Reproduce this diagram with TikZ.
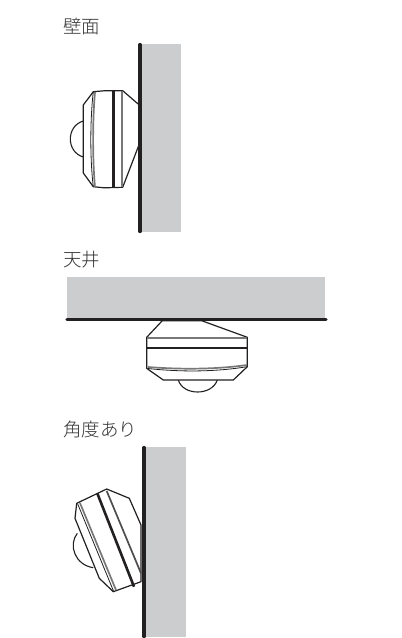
\documentclass[tikz,border=0pt]{standalone}
\usepackage{fontspec}
\newfontfamily\cjk{Noto Sans CJK JP Light}
\definecolor{wallgray}{RGB}{204,205,207}
\definecolor{ink}{RGB}{35,32,33}
\definecolor{captionink}{RGB}{50,48,48}
\definecolor{stripe}{RGB}{120,120,120}
\tikzset{
  wallface/.style={fill=wallgray,draw=none},
  wallline/.style={draw=ink,line width=3.2pt,line cap=round},
  body/.style={draw=ink,line width=1.2pt,fill=white,line join=round},
  dome/.style={draw=ink,line width=1.1pt,fill=white},
  band/.style={draw=ink,line width=2.6pt},
  fine/.style={draw=stripe,line width=1.7pt},
  thin/.style={draw=ink,line width=0.8pt},
  caption/.style={anchor=west,inner sep=0pt,text=captionink,font=\cjk\fontsize{18.5}{20}\selectfont}
}
\begin{document}
\begin{tikzpicture}[x=1pt,y=-1pt]
\useasboundingbox[fill=white] (0,0) rectangle (402,638);
% --- wall
\node[caption] (lab1) at (63,26) {壁面};
\fill[wallface] (141,44) rectangle (181,232);
\draw[dome] (83.3,121) .. controls (66,126) and (66,152) .. (83.3,157);
\draw[body] (93.3,91.7) -- (104,90.8) -- (122.7,90.7) -- (139.3,105) -- (139.3,144) -- (122.7,187.3) -- (104,187.8) -- (93.3,186.7) -- (83.3,173) -- (83.3,105) -- cycle;
\draw[thin] (93.3,91.7) .. controls (90,120) and (90,160) .. (93.3,186.7);
\draw[fine] (95,92) .. controls (92.5,120) and (92.5,160) .. (95,187);
\draw[band] (113.3,91) -- (113.3,187.5);
\draw[fine] (122.3,91) -- (122.3,187);
\draw[wallline] (140,44.5) -- (140,231.5);
% --- ceiling
\node[caption] (lab2) at (63,260) {天井};
\fill[wallface] (67,277) rectangle (325,318);
\draw[dome] (178.3,380) .. controls (183,396) and (212,396) .. (217.3,380);
\draw[body] (162.3,320.7) -- (201.7,320.7) -- (247.3,337.3) -- (247.3,366.7) -- (233.3,380) -- (163.3,380) -- (150,370.7) -- (146.7,368.3) -- (146.7,337.3) -- cycle;
\draw[thin] (148,368.5) .. controls (180,372) and (215,372) .. (247,366.7);
\draw[fine] (148,367) .. controls (180,369.5) and (215,369.5) .. (247,365);
\draw[fine] (146.7,337.7) -- (247.3,337.7);
\draw[band,line width=1.8pt] (146.7,347.7) -- (247.3,347.7);
\draw[wallline] (67,319.7) -- (326,319.7);
% --- angled
\node[caption] (lab3) at (63,429) {角度あり};
\fill[wallface] (146,447) rectangle (186,637);
\draw[dome] (77.3,533.3) .. controls (68,545) and (75,565) .. (93.3,567.7);
\draw[body] (76.7,503.3) -- (106.7,489) -- (129.3,498.3) -- (141,525) -- (141,581.7) -- (113.3,591.7) -- (99.3,578.3) -- (75,518.3) -- cycle;
\draw[thin] (77.5,503.5) -- (113.5,591);
\draw[fine] (80,503) -- (116,590);
\draw[band] (97.3,493.3) -- (134,586.7);
\draw[fine,draw=ink!80] (106.7,491) -- (141,573.3);
\draw[wallline] (144,447.5) -- (144,636.5);
\end{tikzpicture}
\end{document}
